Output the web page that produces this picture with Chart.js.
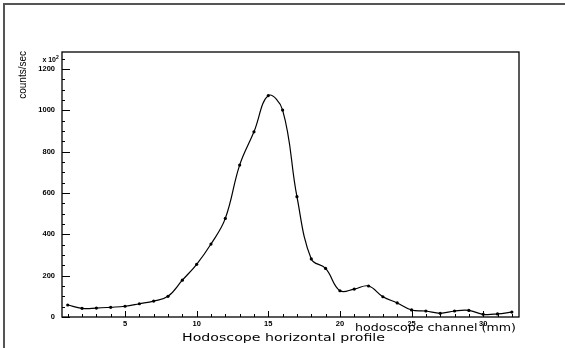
<!DOCTYPE html>
<html>
<head>
<meta charset="utf-8">
<script src="https://cdn.jsdelivr.net/npm/chart.js@4"></script>
<style>
  html, body { margin: 0; padding: 0; background: #fff; }
  #wrap { width: 565px; height: 348px; position: relative; }
</style>
</head>
<body>
<div id="wrap"><canvas id="profil" width="565" height="348"></canvas></div>
<script>
// Donnees du profil horizontal
const channels = [1, 2, 3, 4, 5, 6, 7, 8, 9, 10, 11, 12, 13, 14, 15, 16,
                  17, 18, 19, 20, 21, 22, 23, 24, 25, 26, 27, 28, 29, 30, 31, 32];
const counts = [58, 42, 43, 47, 52, 64, 77, 100, 178, 255, 353, 477, 735, 896, 1071, 1001,
                582, 281, 235, 127, 135, 150, 98, 68, 34, 29, 18, 29, 32, 13, 15, 24];
const xTicks = [5, 10, 15, 20, 25, 30];
const yTicks = [0, 200, 400, 600, 800, 1000, 1200];

const tickFont = { family: 'Liberation Sans', size: 7.5, weight: 'bold' };

// texte elargi (police large comme sur l'original)
function wideText(ctx, txt, x, y, font, stretch) {
    ctx.save();
    ctx.font = font;
    ctx.textAlign = 'left';
    ctx.translate(x, y);
    ctx.scale(stretch, 1);
    ctx.fillText(txt, 0, 0);
    ctx.restore();
}

// Cadre, graduations internes et textes
const decorPlugin = {
    id: 'decor',
    afterDraw(chart) {
        const ctx = chart.ctx;
        const a = chart.chartArea;
        const xs = chart.scales.x;
        const ys = chart.scales.y;
        ctx.save();

        // cadre exterieur
        ctx.strokeStyle = '#555';
        ctx.lineWidth = 2;
        ctx.strokeRect(4, 4, 620, 400);

        // boite du graphique
        ctx.strokeStyle = '#000';
        ctx.lineWidth = 1.3;
        ctx.strokeRect(a.left, a.top, a.right - a.left, a.bottom - a.top);

        // graduations y
        ctx.lineWidth = 1;
        for (let v = 0; v <= 1250; v += 50) {
            const y = Math.round(ys.getPixelForValue(v)) + 0.5;
            const len = (v % 200 === 0) ? 8 : 3;
            ctx.beginPath();
            ctx.moveTo(a.left, y);
            ctx.lineTo(a.left + len, y);
            ctx.stroke();
        }
        // graduations x
        for (let v = 1; v <= 32; v++) {
            const x = Math.round(xs.getPixelForValue(v)) + 0.5;
            const len = (v % 5 === 0) ? 6 : 3;
            ctx.beginPath();
            ctx.moveTo(x, a.bottom);
            ctx.lineTo(x, a.bottom - len);
            ctx.stroke();
        }

        ctx.fillStyle = '#000';
        // facteur d'echelle
        ctx.font = 'bold 7px Liberation Sans';
        ctx.textAlign = 'right';
        ctx.textBaseline = 'alphabetic';
        ctx.fillText('x 10', 56, 62);
        ctx.font = 'bold 5px Liberation Sans';
        ctx.textAlign = 'left';
        ctx.fillText('2', 56, 59);

        // titre y
        ctx.save();
        ctx.translate(26, 51);
        ctx.rotate(-Math.PI / 2);
        ctx.font = '10px Liberation Sans';
        ctx.textAlign = 'right';
        ctx.fillText('counts/sec', 0, 0);
        ctx.restore();

        // titre x
        ctx.font = '10px DejaVu Sans';
        let w = ctx.measureText('hodoscope channel (mm)').width;
        wideText(ctx, 'hodoscope channel (mm)', 355, 331, '10px DejaVu Sans', 161 / w);

        // titre du graphique
        ctx.font = '11px DejaVu Sans';
        w = ctx.measureText('Hodoscope horizontal profile').width;
        wideText(ctx, 'Hodoscope horizontal profile', 182, 341, '11px DejaVu Sans', 203 / w);
        ctx.restore();
    }
};

let ctxProfil = document.getElementById('profil').getContext('2d');

new Chart(ctxProfil, {
    type: 'line',
    data: {
        datasets: [{
            label: 'profile',
            data: channels.map((c, i) => ({ x: c, y: counts[i] })),
            borderColor: '#000',
            backgroundColor: '#000',
            borderWidth: 1.2,
            pointRadius: 1.6,
            pointBorderWidth: 0,
            tension: 0.4,
            fill: false
        }]
    },
    options: {
        responsive: false,
        animation: false,
        events: [],
        layout: { padding: { left: 0, top: 52, right: 46, bottom: 0 } },
        plugins: { legend: { display: false }, tooltip: { enabled: false } },
        scales: {
            x: {
                type: 'linear',
                min: 0.6,
                max: 32.5,
                afterBuildTicks: s => { s.ticks = xTicks.map(v => ({ value: v })); },
                afterFit: s => { s.height = 31; },
                grid: { display: false, drawTicks: false },
                border: { display: false },
                ticks: { font: tickFont, color: '#000', padding: 2, maxRotation: 0,
                         callback: v => String(v) }
            },
            y: {
                min: 0,
                max: 1282,
                afterBuildTicks: s => { s.ticks = yTicks.map(v => ({ value: v })); },
                afterFit: s => { s.width = 62; },
                grid: { display: false, drawTicks: false },
                border: { display: false },
                ticks: { font: tickFont, color: '#000', padding: 7,
                         callback: v => String(v) }
            }
        }
    },
    plugins: [decorPlugin]
});
</script>
</body>
</html>
